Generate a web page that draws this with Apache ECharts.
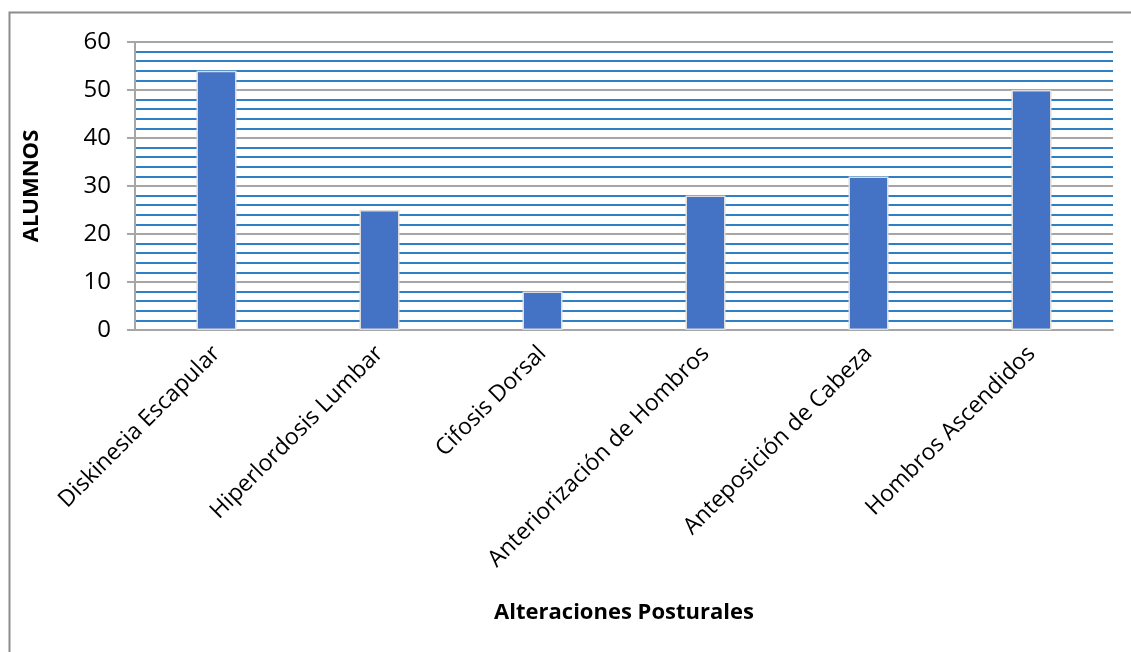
<!DOCTYPE html>
<html>
<head>
<meta charset="utf-8">
<script src="https://cdn.jsdelivr.net/npm/echarts@6/dist/echarts.min.js"></script>
<style>
  html, body { margin: 0; padding: 0; background: #fff; }
  #chart { width: 1131px; height: 652px; }
</style>
</head>
<body>
<div id="chart"></div>
<script>
// Postural alterations found among students
const categories = [
  'Diskinesia Escapular',
  'Hiperlordosis Lumbar',
  'Cifosis Dorsal',
  'Anteriorización de Hombros',
  'Anteposición de Cabeza',
  'Hombros Ascendidos'
];
const alumnos = [54, 25, 8, 28, 32, 50];
const yTicks = [0, 10, 20, 30, 40, 50, 60];

const FONT = '"Open Sans", "Noto Sans", sans-serif';

const chart = echarts.init(document.getElementById('chart'), null, { renderer: 'canvas' });

chart.setOption({
  animation: false,
  backgroundColor: '#fff',
  graphic: [{
    type: 'rect',
    shape: { x: 9.5, y: 12.5, width: 1200, height: 700 },
    style: { fill: 'none', stroke: '#8c8c8c', lineWidth: 2 },
    z: 0
  }],
  grid: { left: 135, right: 18, top: 42, bottom: 322, containLabel: false },
  xAxis: {
    type: 'category',
    data: categories,
    name: 'Alteraciones Posturales',
    nameLocation: 'middle',
    nameGap: 272,
    nameTextStyle: { fontFamily: FONT, fontSize: 22, fontWeight: 'bold', color: '#000' },
    axisLine: { lineStyle: { color: '#a6a6a6', width: 2 } },
    axisTick: { show: false },
    axisLabel: {
      interval: 0,
      rotate: 45,
      margin: 20,
      fontFamily: FONT,
      fontSize: 23,
      color: '#000'
    }
  },
  yAxis: {
    type: 'value',
    min: yTicks[0],
    max: yTicks[yTicks.length - 1],
    interval: 10,
    name: 'ALUMNOS',
    nameLocation: 'middle',
    nameGap: 92,
    nameRotate: 90,
    nameTextStyle: { fontFamily: FONT, fontSize: 22, fontWeight: 'bold', color: '#000' },
    axisLine: { show: true, lineStyle: { color: '#a6a6a6', width: 2 } },
    axisTick: { show: true, length: 8, lineStyle: { color: '#a6a6a6', width: 2 } },
    axisLabel: {
      margin: 24,
      fontFamily: FONT,
      fontSize: 24,
      color: '#000',
      formatter: v => yTicks.includes(v) ? String(v) : ''
    },
    splitLine: { show: true, lineStyle: { color: '#a6a6a6', width: 2 } },
    minorTick: { show: false, splitNumber: 5 },
    minorSplitLine: { show: true, lineStyle: { color: '#2f7fc6', width: 2 } }
  },
  series: [{
    type: 'bar',
    data: alumnos,
    barWidth: 40,
    itemStyle: { color: '#4472c4', borderColor: '#dcdcdc', borderWidth: 1.5 },
    z: 3
  }]
});
</script>
</body>
</html>
